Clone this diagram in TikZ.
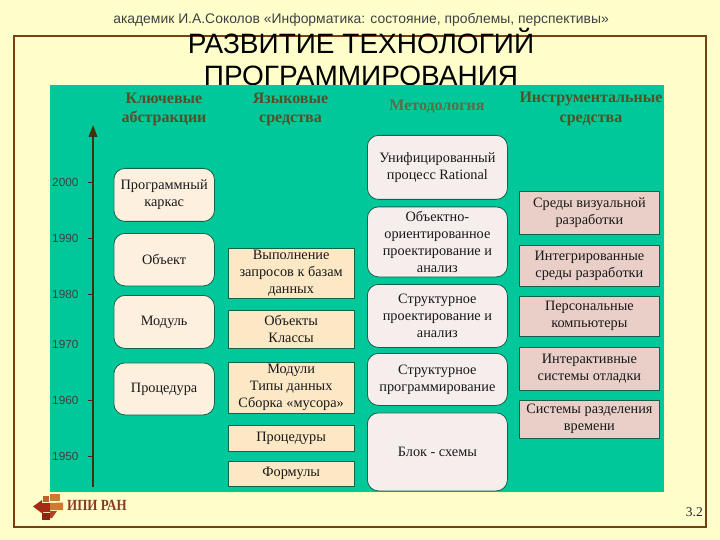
\documentclass[tikz,border=0pt]{standalone}
\usepackage{fontspec}
\setmainfont{Liberation Serif}
\newfontfamily\arialf{Liberation Sans}
\definecolor{bgc}{HTML}{FFFFCC}
\definecolor{framec}{HTML}{7A4110}
\definecolor{greenc}{HTML}{00C89A}
\definecolor{headc}{HTML}{54502A}
\definecolor{headm}{HTML}{5F6A48}
\definecolor{absc}{HTML}{FDF0DF}
\definecolor{langc}{HTML}{FCE8C4}
\definecolor{methc}{HTML}{F6EEEC}
\definecolor{toolc}{HTML}{E9CFC8}
\definecolor{edgec}{HTML}{14604A}
\definecolor{axisc}{HTML}{43300C}
\definecolor{logoc}{HTML}{A82A14}
\definecolor{logod}{HTML}{CF7A30}
\definecolor{logot}{HTML}{8A3A20}
\tikzset{
 x=1pt,y=-1pt,
 bx/.style={draw=edgec,line width=0.8pt,align=center,font=\fontsize{14.3}{17.2}\selectfont,inner sep=0pt,anchor=north west,text=black!90},
 rbox/.style={bx,rounded corners=11pt},
 abstr/.style={rbox,fill=absc,minimum width=100.5pt},
 lang/.style={bx,fill=langc,minimum width=126.5pt},
 meth/.style={rbox,fill=methc,minimum width=140pt},
 tool/.style={bx,fill=toolc,minimum width=140pt},
 head/.style={align=center,font=\bfseries\fontsize{16}{19.5}\selectfont,text=headc,inner sep=0pt},
 yr/.style={font=\arialf\fontsize{11.8}{12}\selectfont,text=black!75,anchor=west,inner sep=0pt},
}
\begin{document}
\begin{tikzpicture}
\useasboundingbox (0,0) rectangle (720,540);
\fill[bgc] (0,0) rectangle (720,540);
\draw[framec,line width=2.4pt] (14,36) rectangle (706,527);
\node[font=\arialf\fontsize{13.9}{16}\selectfont,text=black!75,inner sep=0pt] (sub) at (361,20) {академик И.А.Соколов «Информатика: состояние, проблемы, перспективы»};
\node[font=\arialf\fontsize{28}{32.5}\selectfont,align=center,inner sep=0pt,anchor=north] (title) at (361,28) {РАЗВИТИЕ ТЕХНОЛОГИЙ\\ПРОГРАММИРОВАНИЯ};
\fill[greenc] (50,85) rectangle (664,492);
% headers
\node[head] (h1) at (164,109.5) {Ключевые\\абстракции};
\node[head] (h2) at (290.5,109.5) {Языковые\\средства};
\node[head,text=headm] (h3) at (437,107) {Методология};
\node[head] (h4) at (591,109) {Инструментальные\\средства};
% axis
\coordinate (axb) at (93,487);
\coordinate (axt) at (93,125);
\draw[axisc,line width=2pt] (axb) -- (93,134);
\fill[axisc] (axt) -- (97.5,137) -- (88.5,137) -- cycle;
\foreach \yy/\lab in {182/2000,238/1990,294/1980,344/1970,400/1960,456/1950}{
 \node[yr] (y\lab) at (52,\yy) {\lab};
}
\foreach \yy in {182,238,294,400,456}{
 \draw[axisc,line width=0.8pt] (88,\yy) -- (93,\yy);
}
% abstractions
\node[abstr,minimum height=53pt] (a1) at (113.5,168) {Программный\\каркас};
\node[abstr,minimum height=52.5pt] (a2) at (113.5,233) {Объект};
\node[abstr,minimum height=53pt] (a3) at (113.5,295) {Модуль};
\node[abstr,minimum height=52pt] (a4) at (113.5,362.5) {Процедура};
% language
\node[lang,minimum height=50.5pt] (l1) at (227.5,247.5) {Выполнение\\запросов к базам\\данных};
\node[lang,minimum height=38pt] (l2) at (227.5,309.5) {Объекты\\Классы};
\node[lang,minimum height=51pt] (l3) at (227.5,361.5) {Модули\\Типы данных\\Сборка «мусора»};
\node[lang,minimum height=25.5pt] (l4) at (227.5,425) {Процедуры};
\node[lang,minimum height=25.5pt] (l5) at (227.5,460.5) {Формулы};
% methodology
\node[meth,minimum height=64pt] (m1) at (367,135) {Унифицированный\\процесс  Rational};
\node[meth,minimum height=70pt] (m2) at (367,206.5) {Объектно-\\ориентированное\\проектирование и\\анализ};
\node[meth,minimum height=63pt] (m3) at (367,284) {Структурное\\проектирование и\\анализ};
\node[meth,minimum height=52pt] (m4) at (367,353) {Структурное\\программирование};
\node[meth,minimum height=78pt] (m5) at (367,412.5) {Блок - схемы};
% tools
\node[tool,minimum height=43pt] (t1) at (519,191) {Среды визуальной\\разработки};
\node[tool,minimum height=41.5pt] (t2) at (519,244.5) {Интегрированные\\среды разработки};
\node[tool,minimum height=40.5pt] (t3) at (519,295.5) {Персональные\\компьютеры};
\node[tool,minimum height=43pt] (t4) at (519,346.5) {Интерактивные\\системы отладки};
\node[tool,minimum height=38pt] (t5) at (519,399.5) {Системы разделения\\времени};
% logo
\fill[logoc] (33,506.5) -- (42,500) -- (42,503) -- (50,503) -- (50,512) -- (43,512) -- (43,514) -- cycle;
\fill[logod!70!logoc] (43,496) -- (49,496) -- (49,502) -- (43,502) -- cycle;
\fill[logod] (50,494) -- (60,494) -- (60,501) -- (50,501) -- cycle;
\fill[logod] (50,503) -- (63,502.5) -- (63,510) -- (50,510) -- cycle;
\fill[logoc!85!black] (42,513) -- (50,513) -- (50,520) -- (42,520) -- cycle;
\fill[logoc!70!logod] (50,511) -- (57,511) -- (52,518) -- (50,518) -- cycle;
\node[font=\bfseries\fontsize{15.5}{16}\selectfont,text=logot,anchor=west,inner sep=0pt,xscale=0.84] (logo) at (67,505) {ИПИ РАН};
\node[font=\fontsize{13.5}{14}\selectfont,text=black!85,anchor=east,inner sep=0pt] (pg) at (703,512) {3.2};
\end{tikzpicture}
\end{document}
